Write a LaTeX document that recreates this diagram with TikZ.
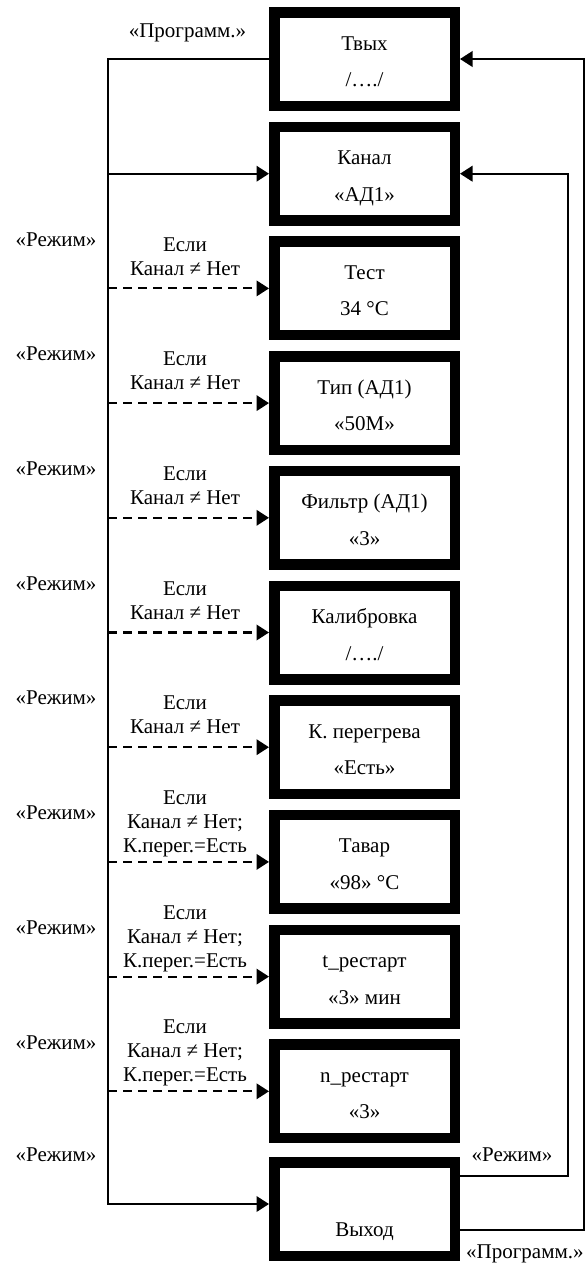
\documentclass[tikz,border=0pt]{standalone}
\usepackage{fontspec}
\setmainfont{Liberation Serif}
\usetikzlibrary{arrows.meta}

% two text lines inside a menu box, with fixed strut height/depth
\newcommand{\boxlines}[2]{\rule{0pt}{24pt}#1\\#2\rule[-5.5pt]{0pt}{5.5pt}}

\tikzset{
  menubox/.style={draw, line width=10.5pt, minimum width=180.5pt, minimum height=93.5pt,
    inner sep=0pt, align=center, font=\fontsize{21}{36.5}\selectfont},
  conn/.style={line width=2.1pt},
  tip/.style={-{Triangle[length=12.5pt,width=15.5pt]}},
  cond/.style={conn, tip, dash pattern=on 9pt off 6pt},
  lbl/.style={inner sep=0pt, align=center, font=\fontsize{21}{24}\selectfont},
}

\begin{document}
\begin{tikzpicture}[x=1pt, y=-1pt]
\useasboundingbox (0,0) rectangle (587,1267);

% menu items
\node[menubox] (tvyh)  at (364.5, 59.0)   {\boxlines{Твых}{/…./}};
\node[menubox] (kanal) at (364.5, 173.7)  {\boxlines{Канал}{«АД1»}};
\node[menubox] (test)  at (364.5, 288.4)  {\boxlines{Тест}{34 °C}};
\node[menubox] (tip)   at (364.5, 403.1)  {\boxlines{Тип (АД1)}{«50М»}};
\node[menubox] (filtr) at (364.5, 517.8)  {\boxlines{Фильтр (АД1)}{«3»}};
\node[menubox] (kalib) at (364.5, 632.5)  {\boxlines{Калибровка}{/…./}};
\node[menubox] (kper)  at (364.5, 747.2)  {\boxlines{К. перегрева}{«Есть»}};
\node[menubox] (tavar) at (364.5, 861.9)  {\boxlines{Тавар}{«98» °C}};
\node[menubox] (trest) at (364.5, 976.6)  {\boxlines{t\_рестарт}{«3» мин}};
\node[menubox] (nrest) at (364.5, 1091.3) {\boxlines{n\_рестарт}{«3»}};
\node[menubox] (vyhod) at (364.5, 1209.0) {\boxlines{}{Выход}};

% left bus
\coordinate (ltop) at (108, 59.0);
\coordinate (lbot) at (108, 1204.0);
\draw[conn, tip] (tvyh.west) -- (ltop) -- (lbot) -- (lbot -| vyhod.west);
\draw[conn, tip] (ltop |- kanal.west) -- (kanal.west);
\foreach \b in {test, tip, filtr, kalib, kper, tavar, trest, nrest}
  \draw[cond] (ltop |- \b.west) -- (\b.west);

% return paths on the right
\draw[conn, tip] ([yshift=33pt]vyhod.east) -| ([xshift=108pt]kanal.east) -- (kanal.east);
\draw[conn, tip] ([yshift=-21pt]vyhod.east) -| ([xshift=124pt]tvyh.east) -- (tvyh.east);

% key labels
\node[lbl] (kprog1) at (187.5, 33) {«Программ.»};
\node[lbl] (kmode2) at (56, 239.4)  {«Режим»};
\node[lbl] (kmode3) at (56, 354.1)  {«Режим»};
\node[lbl] (kmode4) at (56, 468.8)  {«Режим»};
\node[lbl] (kmode5) at (56, 583.5)  {«Режим»};
\node[lbl] (kmode6) at (56, 698.2)  {«Режим»};
\node[lbl] (kmode7) at (56, 812.9)  {«Режим»};
\node[lbl] (kmode8) at (56, 927.6)  {«Режим»};
\node[lbl] (kmode9) at (56, 1042.3) {«Режим»};
\node[lbl] (kmode10) at (56, 1155)  {«Режим»};
\node[lbl] (kmoder) at (512, 1155)  {«Режим»};
\node[lbl, anchor=west] (kprogr) at (466, 1254) {«Программ.»};

% conditions
\node[lbl] (c2) at (185, 256.4)  {Если\\Канал ≠ Нет};
\node[lbl] (c3) at (185, 371.1)  {Если\\Канал ≠ Нет};
\node[lbl] (c4) at (185, 485.8)  {Если\\Канал ≠ Нет};
\node[lbl] (c5) at (185, 600.5)  {Если\\Канал ≠ Нет};
\node[lbl] (c6) at (185, 715.2)  {Если\\Канал ≠ Нет};
\node[lbl] (c7) at (185, 823.9)  {Если\\Канал ≠ Нет;\\К.перег.=Есть};
\node[lbl] (c8) at (185, 938.6)  {Если\\Канал ≠ Нет;\\К.перег.=Есть};
\node[lbl] (c9) at (185, 1053.3) {Если\\Канал ≠ Нет;\\К.перег.=Есть};
\end{tikzpicture}
\end{document}
